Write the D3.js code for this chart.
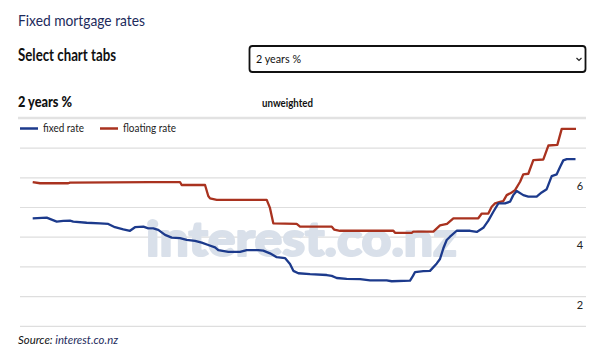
<!DOCTYPE html>
<html>
<head>
<meta charset="utf-8">
<script src="https://cdn.jsdelivr.net/npm/d3@7"></script>
<style>
  html, body { margin: 0; padding: 0; background: #fff; }
  svg { display: block; }
</style>
</head>
<body>
<svg id="chart" width="606" height="352"></svg>
<script>
// ---- data (decimal year, percent) ----
const fixedDates = [2018.000,2018.134,2018.230,2018.293,2018.357,2018.389,2018.517,2018.645,2018.724,2018.788,2018.868,2018.932,2018.980,2019.060,2019.108,2019.155,2019.203,2019.268,2019.332,2019.411,2019.475,2019.555,2019.619,2019.682,2019.747,2019.778,2019.874,2019.986,2020.050,2020.161,2020.209,2020.273,2020.338,2020.417,2020.465,2020.497,2020.545,2020.657,2020.817,2020.865,2020.912,2021.008,2021.136,2021.232,2021.391,2021.439,2021.615,2021.643,2021.663,2021.742,2021.806,2021.871,2021.902,2021.934,2021.966,2021.998,2022.062,2022.190,2022.254,2022.317,2022.365,2022.413,2022.461,2022.525,2022.573,2022.604,2022.637,2022.700,2022.748,2022.828,2022.876,2022.924,2022.972,2023.020,2023.052,2023.083,2023.116,2023.200];
const fixedRate = [4.62,4.64,4.51,4.53,4.54,4.51,4.47,4.45,4.43,4.32,4.25,4.20,4.32,4.34,4.28,4.28,4.23,4.06,3.97,3.95,3.89,3.86,3.80,3.72,3.64,3.55,3.49,3.49,3.55,3.55,3.53,3.44,3.31,3.28,3.08,2.85,2.77,2.74,2.71,2.68,2.61,2.58,2.57,2.53,2.53,2.50,2.52,2.68,2.81,2.84,2.85,3.10,3.25,3.61,3.89,4.00,4.20,4.20,4.16,4.30,4.54,4.84,5.12,5.12,5.18,5.40,5.54,5.40,5.35,5.35,5.49,5.60,6.04,6.10,6.35,6.57,6.61,6.61];
const floatDates = [2018.000,2018.070,2018.341,2018.357,2019.124,2019.411,2019.427,2019.651,2019.682,2019.699,2019.763,2020.242,2020.273,2020.305,2020.529,2020.561,2020.865,2020.887,2020.944,2021.455,2021.471,2021.631,2021.646,2021.838,2021.902,2021.969,2022.030,2022.269,2022.302,2022.365,2022.397,2022.429,2022.477,2022.508,2022.541,2022.589,2022.621,2022.669,2022.700,2022.748,2022.796,2022.892,2022.940,2023.026,2023.068,2023.205];
const floatRate = [5.84,5.80,5.80,5.82,5.84,5.84,5.74,5.74,5.37,5.29,5.24,5.24,4.97,4.45,4.43,4.34,4.34,4.24,4.20,4.20,4.13,4.13,4.17,4.17,4.38,4.43,4.62,4.62,4.78,4.78,5.01,5.12,5.17,5.20,5.40,5.49,5.57,5.85,6.10,6.12,6.58,6.60,7.07,7.09,7.63,7.63];
const yGrid = [1,2,3,4,5,6,7];
const yLabels = [2,4,6];
const seriesNames = ["fixed rate","floating rate"];

const svg = d3.select("#chart");
const FONT = "Lato, 'Noto Sans', sans-serif";

function txt(xp, yp, size, weight, fill, s, len) {
  const t = svg.append("text").attr("x",xp).attr("y",yp).attr("font-family",FONT)
    .attr("font-size",size).attr("font-weight",weight).attr("fill",fill).text(s);
  if (len) t.attr("textLength",len).attr("lengthAdjust","spacingAndGlyphs");
  return t;
}

// header texts
txt(18, 26, 16, 400, "#1d2b5c", "Fixed mortgage rates", 127);
txt(18, 61, 16.5, 700, "#111", "Select chart tabs", 98);

// select box
svg.append("rect").attr("x",249.5).attr("y",46).attr("width",336).attr("height",26)
  .attr("rx",3).attr("fill","#fff").attr("stroke","#111").attr("stroke-width",1.8);
txt(256, 63, 11.5, 400, "#111", "2 years %", 45);
svg.append("path").attr("d","M576.5,58 l2.5,2.5 l2.5,-2.5").attr("fill","none")
  .attr("stroke","#222").attr("stroke-width",1.2);

txt(18, 107, 14.5, 900, "#111", "2 years %", 54);
txt(262, 107, 11.5, 700, "#111", "unweighted", 51);

// scales
const x = d3.scaleLinear().domain([2018, 2023.2]).range([32.7, 575.5]);
const y = d3.scaleLinear().domain([1, 8]).range([325.8, 117.9]);

// top band line
svg.append("line").attr("x1",18).attr("x2",586).attr("y1",y(8)).attr("y2",y(8))
  .attr("stroke","#e2e2e2").attr("stroke-width",2.5);

// gridlines via axis
const gridAxis = d3.axisRight(y).tickValues(yGrid).tickSize(-566).tickFormat("");
const gg = svg.append("g").attr("transform","translate(586,0)").call(gridAxis);
gg.select(".domain").remove();
gg.selectAll(".tick line").attr("stroke","#dedede").attr("stroke-width",1.2);

// y labels (below their gridline)
svg.append("g").selectAll("text").data(yLabels).join("text")
  .attr("x",580).attr("y",d => y(d) + 12.5).attr("text-anchor","middle")
  .attr("font-family",FONT).attr("font-size",11).attr("fill","#222").text(d => d);

// watermark
svg.append("text").attr("x",146).attr("y",256).attr("font-family","Lato, 'Open Sans', sans-serif")
  .attr("font-size",48).attr("font-weight",900).attr("fill","#d9e0ea")
  .attr("stroke","#d9e0ea").attr("stroke-width",2).attr("stroke-linejoin","round")
  .attr("textLength",311).attr("lengthAdjust","spacingAndGlyphs").text("interest.co.nz");

// legend
const legendColors = ["#1c3a8c","#a9321f"];
const lg = svg.append("g");
const legendX = [20, 100];
const legendLen = [41, 53];
seriesNames.forEach((n,i) => {
  lg.append("line").attr("x1",legendX[i]).attr("x2",legendX[i]+18).attr("y1",128.5).attr("y2",128.5)
    .attr("stroke",legendColors[i]).attr("stroke-width",2.5);
  lg.append("text").attr("x",legendX[i]+23).attr("y",132).attr("font-family",FONT)
    .attr("font-size",11).attr("fill","#222")
    .attr("textLength",legendLen[i]).attr("lengthAdjust","spacingAndGlyphs").text(n);
});

// lines
const line = d3.line().x(d => x(d[0])).y(d => y(d[1]));
const fixedData = fixedDates.map((d,i) => [d, fixedRate[i]]);
const floatData = floatDates.map((d,i) => [d, floatRate[i]]);
svg.append("path").datum(floatData).attr("d",line).attr("fill","none")
  .attr("stroke",legendColors[1]).attr("stroke-width",2.3).attr("stroke-linejoin","round");
svg.append("path").datum(fixedData).attr("d",line).attr("fill","none")
  .attr("stroke",legendColors[0]).attr("stroke-width",2.3).attr("stroke-linejoin","round");

// source
const src = svg.append("text").attr("x",18).attr("y",344).attr("font-family",FONT)
  .attr("font-size",11.5).attr("font-style","italic")
  .attr("textLength",100).attr("lengthAdjust","spacingAndGlyphs");
src.append("tspan").attr("fill","#111").text("Source: ");
src.append("tspan").attr("fill","#1d2b5c").text("interest.co.nz");
</script>
</body>
</html>
